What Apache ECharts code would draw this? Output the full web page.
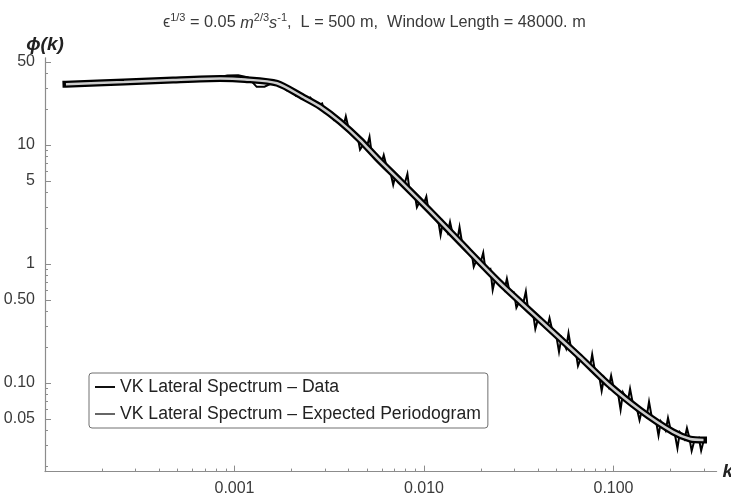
<!DOCTYPE html>
<html><head><meta charset="utf-8">
<script src="https://cdn.jsdelivr.net/npm/echarts@6/dist/echarts.min.js"></script>
<style>html,body{margin:0;padding:0;background:#fff}#c{width:731px;height:495px}</style>
</head><body><div id="c"></div>
<script>
// wavenumber k of the data samples
const kData = [
  1.29e-4, 2.62e-4, 3.93e-4, 5.24e-4, 6.54e-4, 7.85e-4, 9.16e-4, 1.047e-3, 1.178e-3, 1.309e-3, 1.44e-3, 1.571e-3,
  1.778e-3, 1.884e-3, 1.995e-3, 2.113e-3, 2.239e-3, 2.371e-3, 2.512e-3, 2.661e-3, 2.818e-3, 2.901e-3, 2.985e-3,
  3.162e-3, 3.350e-3, 3.548e-3, 3.758e-3, 3.868e-3, 3.981e-3, 4.217e-3, 4.467e-3, 4.597e-3, 4.732e-3, 5.012e-3, 5.158e-3, 5.309e-3,
  5.623e-3, 5.957e-3, 6.131e-3, 6.310e-3, 6.683e-3, 6.879e-3, 7.079e-3, 7.499e-3, 7.943e-3, 8.175e-3, 8.414e-3, 8.913e-3, 9.173e-3, 9.441e-3,
  0.01, 0.01029, 0.01059, 0.01122, 0.01189, 0.01223, 0.01259, 0.01334, 0.01372, 0.01413, 0.01496, 0.0154, 0.01585, 0.01679,
  0.01778, 0.0183, 0.01884, 0.01995, 0.02054, 0.02113, 0.02239, 0.02304, 0.02371, 0.02512, 0.02661, 0.02738, 0.02818, 0.02985, 0.03073,
  0.03162, 0.0335, 0.03447, 0.03548, 0.03758, 0.03868, 0.03981, 0.04217, 0.04467, 0.04597, 0.04732, 0.05012, 0.05158, 0.05309,
  0.05623, 0.05788, 0.05957, 0.0631, 0.06494, 0.06683, 0.07079, 0.07499, 0.07718, 0.07943, 0.08414, 0.0866, 0.08913, 0.09441, 0.09716,
  0.1, 0.1059, 0.109, 0.1122, 0.1189, 0.1223, 0.1259, 0.1334, 0.1372, 0.1413, 0.1496, 0.154, 0.1585, 0.1679, 0.1728,
  0.1778, 0.1884, 0.1939, 0.1995, 0.2113, 0.2175, 0.2239, 0.2371, 0.2441, 0.2512, 0.2585, 0.2661, 0.2818, 0.2901, 0.2985
];
// VK lateral spectrum - data
const phiData = [
  32.4, 33.9, 34.6, 35.3, 35.7, 36.4, 38.3, 38.6, 37.0, 30.8, 30.9, 33.0,
  32.1, 28.9, 29.0, 25.9, 26.6, 24.0, 25.0, 21.6, 21.8, 22.3, 18.8,
  18.8, 16.2, 16.7, 14.4, 17.4, 14.2, 12.1, 11.7, 9.13, 9.79, 9.85, 11.7, 8.25,
  8.21, 6.99, 8.22, 6.84, 5.70, 4.63, 5.58, 4.75, 4.86, 5.71, 4.00, 3.95, 3.00, 3.29,
  3.25, 3.69, 2.73, 2.73, 2.31, 1.75, 2.26, 1.83, 2.25, 1.82, 1.55, 2.04, 1.54, 1.30,
  1.28, 0.947, 1.062, 1.047, 1.243, 0.880, 0.909, 0.606, 0.746, 0.727, 0.609, 0.752, 0.600, 0.577, 0.429,
  0.472, 0.476, 0.588, 0.403, 0.393, 0.285, 0.337, 0.339, 0.291, 0.351, 0.286, 0.240, 0.1826, 0.239,
  0.195, 0.2616, 0.199, 0.187, 0.1393, 0.157, 0.156, 0.1315, 0.1737, 0.132, 0.113, 0.0858, 0.1107, 0.0916, 0.1150,
  0.0921, 0.0798, 0.0597, 0.0831, 0.0695, 0.0893, 0.0700, 0.0592, 0.0487, 0.0592, 0.0520, 0.0696, 0.0536, 0.0471, 0.0362,
  0.0474, 0.0398, 0.0508, 0.0415, 0.0364, 0.0283, 0.0384, 0.0337, 0.0417, 0.0348, 0.0269, 0.0321, 0.0346, 0.0270, 0.0324
];
// VK lateral spectrum - expected periodogram
const kExpected = [1.29e-4, 2.61e-4, 4.74e-4, 8.39e-4, 1.136e-3, 1.677e-3, 2.30e-3, 2.83e-3, 3.60e-3, 4.60e-3, 5.65e-3,
  7.46e-3, 0.01076, 0.01549, 0.0252, 0.0409, 0.0665, 0.0936, 0.138, 0.206, 0.254, 0.2985];
const phiExpected = [32.4, 33.8, 35.2, 36.2, 35.5, 33.0, 25.3, 21.0, 15.7, 11.0, 7.78,
  5.01, 2.79, 1.53, 0.692, 0.338, 0.1654, 0.0981, 0.0593, 0.0388, 0.0338, 0.0332];

const seriesNames = ['VK Lateral Spectrum \u2013 Data', 'VK Lateral Spectrum \u2013 Expected Periodogram'];
const xMajorTicks = [0.001, 0.01, 0.1];
const xTickLabels = ['0.001', '0.010', '0.100'];
const xMinorTicks = [2e-4, 3e-4, 4e-4, 5e-4, 6e-4, 7e-4, 8e-4, 9e-4, 2e-3, 3e-3, 4e-3, 5e-3, 6e-3, 7e-3, 8e-3, 9e-3,
  0.02, 0.03, 0.04, 0.05, 0.06, 0.07, 0.08, 0.09, 0.2, 0.3];
const yMajorTicks = [0.05, 0.1, 0.5, 1, 5, 10, 50];
const yTickLabels = ['0.05', '0.10', '0.50', '1', '5', '10', '50'];
const yMinorTicks = [0.02, 0.03, 0.04, 0.06, 0.07, 0.08, 0.09, 0.2, 0.3, 0.4, 0.6, 0.7, 0.8, 0.9,
  2, 3, 4, 6, 7, 8, 9, 20, 30, 40];

const FONT = '"Liberation Sans", Arial, sans-serif';
const AXC = '#8c8c8c';
const TXT = '#3a3a3a';
function labelFor(ticks, labels) {
  return function (v) {
    for (let i = 0; i < ticks.length; i++) {
      if (Math.abs(Math.log10(v) - Math.log10(ticks[i])) < 1e-6) return labels[i];
    }
    return '';
  };
}
const X_MIN = 1e-4, X_MAX = 0.35, Y_MIN = 0.018, Y_MAX = 54;
const LEG_ICON = 'path://M0,0L20,0L20,2L0,2Z';
const expectedPairs = kExpected.map((k, i) => [k, phiExpected[i]]);

const chart = echarts.init(document.getElementById('c'), null, {renderer: 'canvas'});
chart.setOption({
  animation: false,
  backgroundColor: '#fff',
  title: {
    text: '{t|\u03f5}{sup|1/3}{t| = 0.05 }{i|m}{sup|2/3}{i|s}{sup|-1}{t|,  L = 500 m,  Window Length = 48000. m}',
    left: 158, top: 7,
    textStyle: {
      fontWeight: 'normal',
      rich: {
        t: {fontSize: 16.3, fontFamily: FONT, color: TXT, lineHeight: 22, fontWeight: 'normal'},
        i: {fontSize: 16.3, fontFamily: FONT, color: TXT, fontStyle: 'italic', lineHeight: 22, fontWeight: 'normal'},
        sup: {fontSize: 11, fontFamily: FONT, color: TXT, lineHeight: 10, verticalAlign: 'top', fontWeight: 'normal'}
      }
    }
  },
  grid: {left: 45, right: 14.4, top: 57.8, bottom: 23.4, outerBoundsMode: 'none'},
  legend: {
    orient: 'vertical', left: 89, top: 373,
    padding: [5, 7, 5, 6], itemWidth: 20, itemHeight: 14, itemGap: 9,
    backgroundColor: '#fff', borderColor: '#707070', borderWidth: 1, borderRadius: 3,
    textStyle: {fontSize: 17.6, color: '#222', fontFamily: FONT},
    data: [
      {name: seriesNames[0], icon: LEG_ICON, itemStyle: {color: '#111', borderWidth: 0}},
      {name: seriesNames[1], icon: LEG_ICON, itemStyle: {color: '#666', borderWidth: 0}}
    ]
  },
  xAxis: [{
    type: 'log', logBase: 10, min: X_MIN, max: X_MAX, gridIndex: 0,
    name: 'k', nameLocation: 'end', nameGap: 6,
    nameTextStyle: {fontSize: 19, fontWeight: 'bold', fontStyle: 'italic', color: '#222', fontFamily: FONT, align: 'left', verticalAlign: 'middle'},
    axisLine: {show: true, lineStyle: {color: AXC, width: 1.2}},
    axisTick: {show: true, inside: true, length: 6, lineStyle: {color: AXC}, customValues: xMajorTicks},
    axisLabel: {show: true, margin: 9, fontSize: 16, color: TXT, fontFamily: FONT, customValues: xMajorTicks,
      formatter: labelFor(xMajorTicks, xTickLabels)},
    splitLine: {show: false}, minorTick: {show: false}
  }, {
    type: 'log', logBase: 10, min: X_MIN, max: X_MAX, gridIndex: 0, position: 'bottom',
    axisLine: {show: false},
    axisTick: {show: true, inside: true, length: 3, lineStyle: {color: AXC}, customValues: xMinorTicks},
    axisLabel: {show: false}, splitLine: {show: false}
  }],
  yAxis: [{
    type: 'log', logBase: 10, min: Y_MIN, max: Y_MAX, gridIndex: 0,
    name: '\u03d5(k)', nameLocation: 'end', nameGap: 12,
    nameTextStyle: {fontSize: 19, fontWeight: 'bold', fontStyle: 'italic', color: '#222', fontFamily: FONT, align: 'center', verticalAlign: 'middle'},
    axisLine: {show: true, lineStyle: {color: AXC, width: 1.2}},
    axisTick: {show: true, inside: true, length: 6, lineStyle: {color: AXC}, customValues: yMajorTicks},
    axisLabel: {show: true, margin: 10, fontSize: 16, color: TXT, fontFamily: FONT, customValues: yMajorTicks,
      formatter: labelFor(yMajorTicks, yTickLabels)},
    splitLine: {show: false}, minorTick: {show: false}
  }, {
    type: 'log', logBase: 10, min: Y_MIN, max: Y_MAX, gridIndex: 0, position: 'left',
    axisLine: {show: false},
    axisTick: {show: true, inside: true, length: 3, lineStyle: {color: AXC}, customValues: yMinorTicks},
    axisLabel: {show: false}, splitLine: {show: false}
  }],
  series: [{
    // dark outline of the expected periodogram tube
    name: 'outline', type: 'line', xAxisIndex: 0, yAxisIndex: 0,
    data: expectedPairs, symbol: 'none', z: 2, smooth: 0.25, silent: true,
    itemStyle: {color: '#000'},
    lineStyle: {color: '#000', width: 7, cap: 'square', join: 'round'}
  }, {
    name: seriesNames[0], type: 'line', xAxisIndex: 0, yAxisIndex: 0,
    data: kData.map((k, i) => [k, phiData[i]]),
    symbol: 'none', z: 3,
    itemStyle: {color: '#111'},
    lineStyle: {color: '#000', width: 2, cap: 'butt', join: 'miter', miterLimit: 8}
  }, {
    name: seriesNames[1], type: 'line', xAxisIndex: 0, yAxisIndex: 0,
    data: expectedPairs,
    symbol: 'none', z: 4, smooth: 0.25,
    itemStyle: {color: '#666'},
    lineStyle: {color: '#cdcdcd', width: 2.5, cap: 'butt'}
  }]
});
</script>
</body></html>
